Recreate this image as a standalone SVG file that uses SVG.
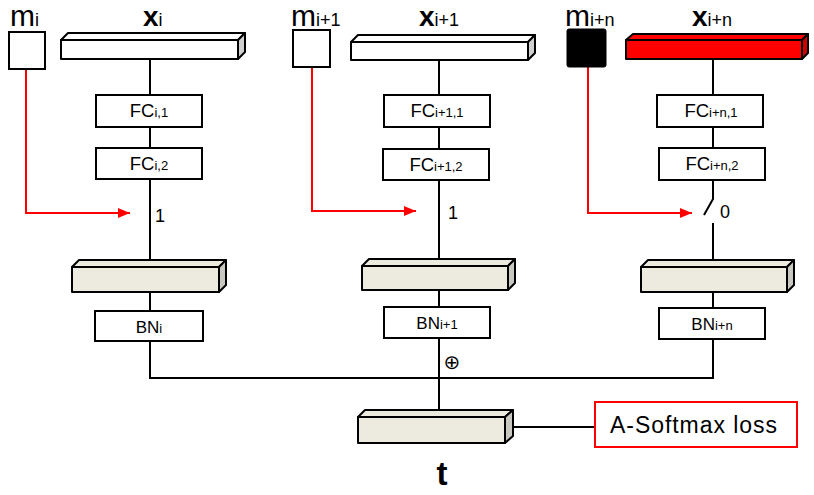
<svg xmlns="http://www.w3.org/2000/svg" width="814" height="495" viewBox="0 0 814 495">
<defs>
<style>
.box{fill:#fff;stroke:#000;stroke-width:2}
.bw{fill:#fff;stroke:#000;stroke-width:2;stroke-linejoin:round}
.bws{fill:#d0d0d0;stroke:#000;stroke-width:2;stroke-linejoin:round}
.bg{fill:#edeae0;stroke:#000;stroke-width:2;stroke-linejoin:round}
.bgs{fill:#c9c8c0;stroke:#000;stroke-width:2;stroke-linejoin:round}
.br{fill:#ff0000;stroke:#000;stroke-width:2;stroke-linejoin:round}
.brs{fill:#cc0000;stroke:#000;stroke-width:2;stroke-linejoin:round}
.ln{fill:none;stroke:#000;stroke-width:2}
.rl{fill:none;stroke:#ff0000;stroke-width:2}
.t{font-family:"Liberation Sans",Arial,sans-serif;fill:#000}
.lbl{font-size:18.5px;text-anchor:middle}
.bn{font-size:17px;text-anchor:middle}
.sub{font-size:13px}
.m{font-size:30px}
.ms{font-size:18px}
.x{font-size:28px;font-weight:bold}
.xs{font-size:18px;font-weight:normal}
.n{font-size:18px}
</style>
<marker id="ah" markerWidth="12" markerHeight="10" refX="12" refY="5" orient="auto" markerUnits="userSpaceOnUse">
<polygon points="0,0 12,5 0,10" fill="#ff0000"/>
</marker>
</defs>

<g id="connectors">
<path class="ln" d="M150,59 V95 M150,127 V148 M150,179 V260 M150,292 V311 M150,341 V378"/>
<path class="ln" d="M439,60 V95 M439,127 V149 M439,180 V259 M439,290 V307 M439,338 V410"/>
<path class="ln" d="M713,59 V95 M713,127 V148 M713,180 V199 L704,215 M713,223 V260 M713,292 V308 M713,339 V378"/>
<path class="ln" d="M149,378 H714"/>
<path class="ln" d="M513,427 H595"/>
<path class="rl" d="M26,69 V213 H130" marker-end="url(#ah)"/>
<path class="rl" d="M312,67 V211 H416" marker-end="url(#ah)"/>
<path class="rl" d="M588,67 V213 H692" marker-end="url(#ah)"/>
</g>

<g id="col-i">
<g id="m_i"><rect class="box" x="9" y="32" width="36" height="37"/><text class="t m" x="10" y="26">m<tspan class="ms">i</tspan></text></g>
<g id="x_i">
<polygon class="bw" points="61,40 68,33 245,33 238,40"/>
<polygon class="bws" points="238,40 245,33 245,52 238,59"/>
<rect class="bw" x="61" y="40" width="177" height="19"/>
<text class="t x" x="143" y="26">x<tspan class="xs">i</tspan></text>
</g>
<g id="fc_i1"><rect class="box" x="96" y="95" width="106" height="32"/><text class="t lbl" x="149" y="117">FC<tspan class="sub">i,1</tspan></text></g>
<g id="fc_i2"><rect class="box" x="96" y="148" width="106" height="31"/><text class="t lbl" x="149" y="170">FC<tspan class="sub">i,2</tspan></text></g>
<text class="t n" x="155" y="222">1</text>
<g id="emb_i">
<polygon class="bg" points="72,267 79,260 226,260 219,267"/>
<polygon class="bgs" points="219,267 226,260 226,285 219,292"/>
<rect class="bg" x="72" y="267" width="147" height="25"/>
</g>
<g id="bn_i"><rect class="box" x="95" y="311" width="108" height="30"/><text class="t bn" x="149" y="333">BN<tspan class="sub">i</tspan></text></g>
</g>

<g id="col-i1">
<g id="m_i1"><rect class="box" x="293" y="30" width="37" height="37"/><text class="t m" x="291" y="26">m<tspan class="ms">i+1</tspan></text></g>
<g id="x_i1">
<polygon class="bw" points="351,42 358,35 535,35 528,42"/>
<polygon class="bws" points="528,42 535,35 535,53 528,60"/>
<rect class="bw" x="351" y="42" width="177" height="18"/>
<text class="t x" x="419" y="26">x<tspan class="xs">i+1</tspan></text>
</g>
<g id="fc_i11"><rect class="box" x="384" y="95" width="106" height="32"/><text class="t lbl" x="437" y="117">FC<tspan class="sub">i+1,1</tspan></text></g>
<g id="fc_i12"><rect class="box" x="383" y="149" width="106" height="31"/><text class="t lbl" x="436" y="171">FC<tspan class="sub">i+1,2</tspan></text></g>
<text class="t n" x="448" y="219">1</text>
<g id="emb_i1">
<polygon class="bg" points="362,266 369,259 515,259 508,266"/>
<polygon class="bgs" points="508,266 515,259 515,283 508,290"/>
<rect class="bg" x="362" y="266" width="146" height="24"/>
</g>
<g id="bn_i1"><rect class="box" x="384" y="307" width="106" height="31"/><text class="t bn" x="437" y="329">BN<tspan class="sub">i+1</tspan></text></g>
<text x="452" y="369" font-family="DejaVu Sans,sans-serif" font-size="20" text-anchor="middle">⊕</text>
</g>

<g id="col-in">
<g id="m_in"><rect x="567" y="29" width="39" height="38" rx="2" fill="#000" stroke="#000" stroke-width="1"/><text class="t m" x="565" y="26">m<tspan class="ms">i+n</tspan></text></g>
<g id="x_in">
<polygon class="br" points="626,40 633,34 808,34 802,40"/>
<polygon class="brs" points="802,40 808,34 808,53 802,59"/>
<rect class="br" x="626" y="40" width="176" height="19"/>
<text class="t x" x="692" y="26">x<tspan class="xs">i+n</tspan></text>
</g>
<g id="fc_in1"><rect class="box" x="657" y="95" width="106" height="32"/><text class="t lbl" x="711" y="117">FC<tspan class="sub">i+n,1</tspan></text></g>
<g id="fc_in2"><rect class="box" x="659" y="148" width="106" height="32"/><text class="t lbl" x="712" y="170">FC<tspan class="sub">i+n,2</tspan></text></g>
<text class="t n" x="720" y="218">0</text>
<g id="emb_in">
<polygon class="bg" points="641,267 648,260 794,260 787,267"/>
<polygon class="bgs" points="787,267 794,260 794,285 787,292"/>
<rect class="bg" x="641" y="267" width="146" height="25"/>
</g>
<g id="bn_in"><rect class="box" x="659" y="308" width="106" height="31"/><text class="t bn" x="712" y="330">BN<tspan class="sub">i+n</tspan></text></g>
</g>

<g id="t">
<polygon class="bg" points="358,417 365,410 513,410 505,417"/>
<polygon class="bgs" points="505,417 513,410 513,436 505,443"/>
<rect class="bg" x="358" y="417" width="147" height="26"/>
<text class="t" x="442" y="485" font-size="33" font-weight="bold" text-anchor="middle">t</text>
</g>

<g id="loss">
<rect x="595" y="402" width="202" height="45" fill="#fff" stroke="#ff0000" stroke-width="2"/>
<text class="t" x="610" y="433" font-size="23" textLength="167" lengthAdjust="spacing">A-Softmax loss</text>
</g>
</svg>
